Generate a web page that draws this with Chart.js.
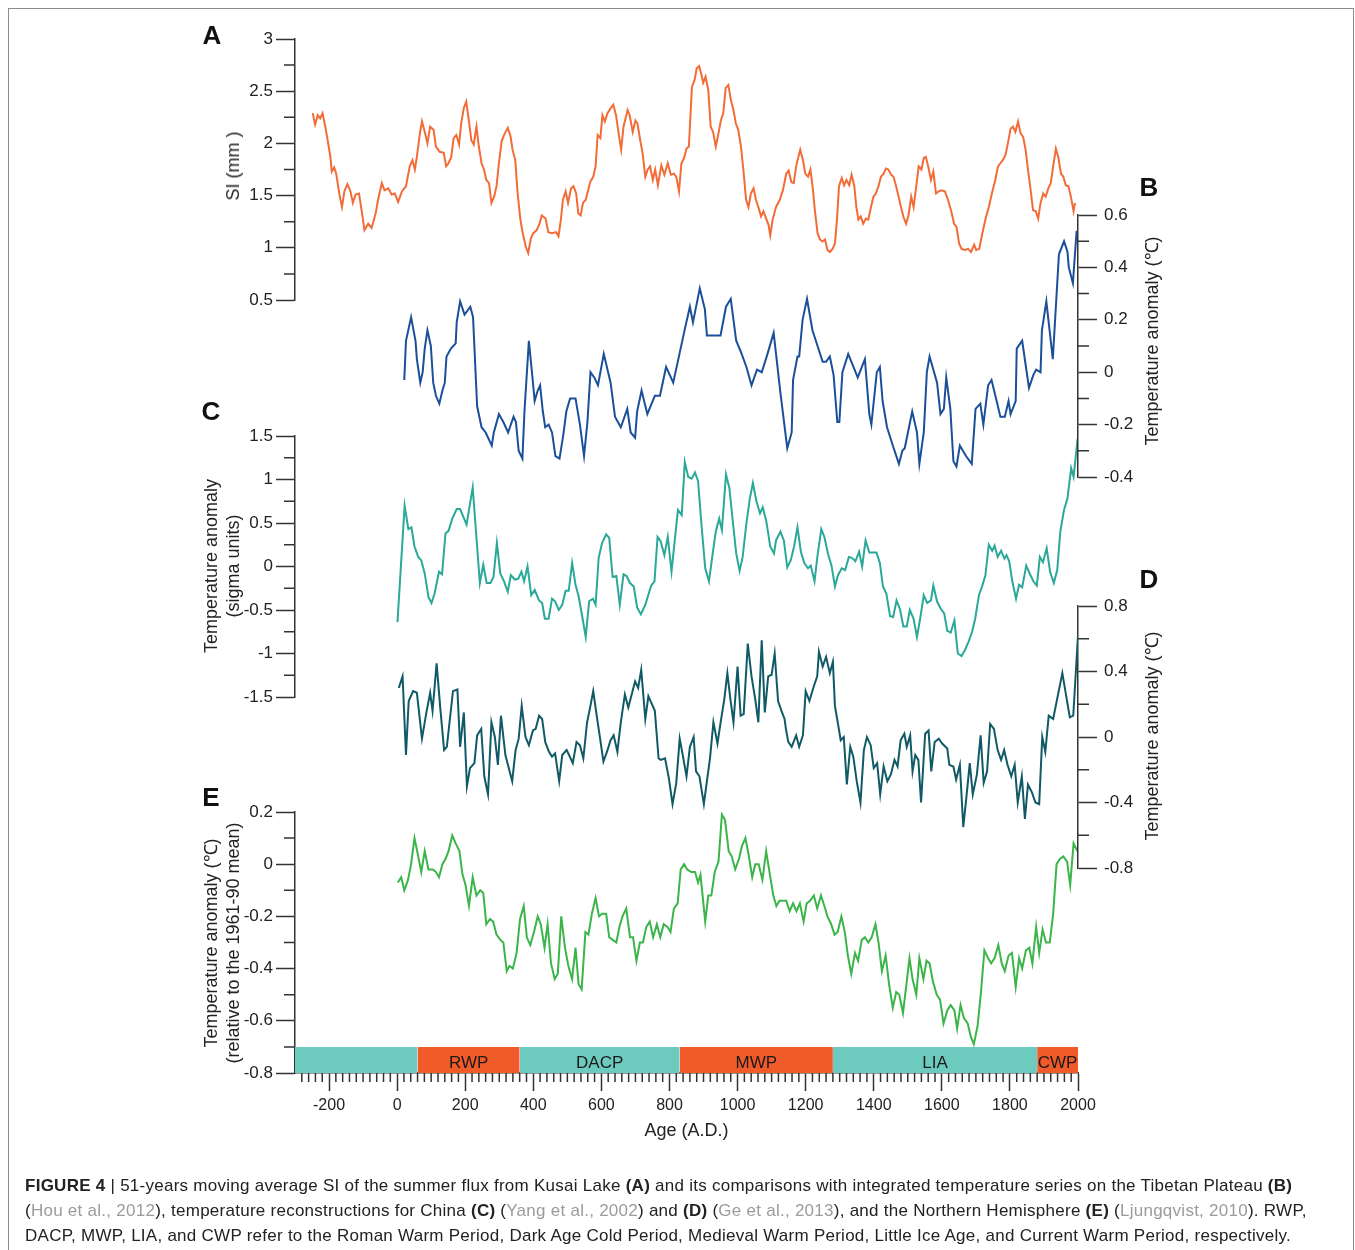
<!DOCTYPE html>
<html>
<head>
<meta charset="utf-8">
<title>Figure 4 - Kusai Lake SI and temperature series</title>
<script src="https://cdn.jsdelivr.net/npm/chart.js"></script>
<style>
    body { margin: 0; background: #fff; font-family: "Liberation Sans", Arial, sans-serif; }
    #page { position: relative; width: 1355px; height: 1250px; overflow: hidden; background: #fff; }
    #frame { position: absolute; left: 8px; top: 8px; width: 1344px; height: 1300px; border: 1px solid #8c8c8c; }
    #page canvas { position: absolute; left: 0; top: 0; }
    .letter { position: absolute; transform: translate(-50%, -50%); font-size: 26px; font-weight: bold; color: #111; }
    .ytitle { position: absolute; transform: translate(-50%, -50%) rotate(-90deg); font-size: 18px; line-height: 22px; color: #222; white-space: nowrap; text-align: center; }
    #caption { position: absolute; left: 25px; top: 1173px; font-size: 17px; line-height: 25px; letter-spacing: 0.26px; color: #222; white-space: nowrap; }
    #caption .ref { color: #9b9b9b; }
</style>
</head>
<body>
<div id="page">
    <div id="frame"></div>
    <canvas id="chartE" width="1355" height="1250"></canvas>
    <canvas id="chartD" width="1355" height="1250"></canvas>
    <canvas id="chartC" width="1355" height="1250"></canvas>
    <canvas id="chartB" width="1355" height="1250"></canvas>
    <canvas id="chartA" width="1355" height="1250"></canvas>

    <div class="letter" style="left:212px;top:35px">A</div>
    <div class="letter" style="left:1149px;top:187px">B</div>
    <div class="letter" style="left:211px;top:411px">C</div>
    <div class="letter" style="left:1149px;top:579px">D</div>
    <div class="letter" style="left:211px;top:797px">E</div>

    <div class="ytitle" style="left:233px;top:166px">SI (mm )</div>
    <div class="ytitle" style="left:1152px;top:341px">Temperature anomaly (℃)</div>
    <div class="ytitle" style="left:222px;top:566px">Temperature anomaly<br>(sigma units)</div>
    <div class="ytitle" style="left:1152px;top:736px">Temperature anomaly (℃)</div>
    <div class="ytitle" style="left:222px;top:943px">Temperature anomaly (℃)<br>(relative to the 1961-90 mean)</div>

    <div id="caption">
        <div><b>FIGURE 4</b> | 51-years moving average SI of the summer flux from Kusai Lake <b>(A)</b> and its comparisons with integrated temperature series on the Tibetan Plateau <b>(B)</b></div>
        <div>(<span class="ref">Hou et al., 2012</span>), temperature reconstructions for China <b>(C)</b> (<span class="ref">Yang et al., 2002</span>) and <b>(D)</b> (<span class="ref">Ge et al., 2013</span>), and the Northern Hemisphere <b>(E)</b> (<span class="ref">Ljungqvist, 2010</span>). RWP,</div>
        <div>DACP, MWP, LIA, and CWP refer to the Roman Warm Period, Dark Age Cold Period, Medieval Warm Period, Little Ice Age, and Current Warm Period, respectively.</div>
    </div>
</div>

<script>
    // (A) 51-yr moving average SI, Kusai Lake
    const siYears = [-248,-241,-233,-226,-219,-211,-204,-196,-192,-185,
        -179,-170,-162,-155,-146,-137,-130,-122,-112,-103,
        -96,-85,-75,-63,-56,-45,-37,-26,-16,-7,
        3,14,26,37,45,52,58,67,73,82,
        89,97,107,114,125,137,144,151,159,166,
        174,182,188,196,203,211,218,225,233,240,
        248,255,262,270,277,285,292,299,307,314,
        325,333,339,347,354,362,369,378,385,393,
        400,410,418,425,436,444,455,467,474,481,
        487,495,502,511,518,526,532,539,546,554,
        561,567,576,583,589,597,603,610,618,628,
        635,643,650,658,665,677,683,692,700,706,
        714,721,729,736,743,751,758,766,776,785,
        795,804,813,820,828,835,843,850,857,866,
        874,880,887,893,899,906,914,921,928,936,
        943,951,958,965,973,980,988,995,1002,1010,
        1017,1025,1032,1039,1047,1054,1062,1069,1076,1084,
        1091,1096,1103,1113,1124,1133,1143,1150,1158,1165,
        1172,1180,1184,1192,1199,1207,1214,1221,1227,1235,
        1242,1249,1257,1264,1271,1279,1286,1292,1298,1306,
        1313,1320,1328,1335,1343,1349,1355,1362,1369,1377,
        1384,1392,1399,1406,1414,1421,1429,1436,1443,1451,
        1458,1465,1473,1480,1487,1495,1502,1510,1517,1525,
        1532,1540,1547,1553,1560,1568,1575,1583,1591,1599,
        1609,1618,1627,1636,1643,1651,1658,1668,1677,1686,
        1695,1701,1710,1719,1728,1738,1747,1757,1765,1772,
        1779,1787,1794,1802,1809,1816,1824,1831,1839,1846,
        1853,1861,1868,1876,1883,1890,1898,1905,1913,1920,
        1927,1935,1942,1950,1957,1964,1972,1979,1987,1991];
    const siValues = [2.29,2.18,2.27,2.24,2.29,2.16,2.03,1.87,1.73,1.77,
        1.71,1.52,1.39,1.54,1.61,1.54,1.43,1.51,1.52,1.33,
        1.17,1.23,1.19,1.33,1.46,1.62,1.55,1.57,1.51,1.52,
        1.44,1.54,1.59,1.78,1.84,1.75,1.87,2.10,2.21,2.10,
        2.00,2.16,2.13,1.97,1.92,1.91,1.78,1.81,1.87,2.05,
        2.08,1.99,2.19,2.34,2.40,2.21,2.03,1.99,2.16,1.97,
        1.81,1.75,1.65,1.62,1.43,1.49,1.59,1.81,2.02,2.08,
        2.15,2.07,1.94,1.84,1.52,1.27,1.14,1.01,0.95,1.09,
        1.14,1.17,1.23,1.31,1.28,1.15,1.14,1.15,1.11,1.27,
        1.46,1.54,1.43,1.57,1.59,1.52,1.33,1.31,1.43,1.46,
        1.55,1.63,1.68,1.78,2.08,2.05,2.27,2.21,2.29,2.34,
        2.37,2.27,2.11,1.94,2.16,2.32,2.27,2.11,2.22,2.19,
        2.03,1.91,1.68,1.75,1.78,1.65,1.75,1.60,1.79,1.70,
        1.81,1.70,1.71,1.68,1.54,1.81,1.86,1.95,1.97,2.54,
        2.61,2.72,2.74,2.67,2.58,2.64,2.51,2.16,2.11,1.97,
        2.08,2.22,2.29,2.53,2.56,2.42,2.32,2.19,2.13,1.97,
        1.75,1.46,1.39,1.52,1.57,1.46,1.38,1.30,1.35,1.28,
        1.22,1.12,1.27,1.39,1.46,1.55,1.71,1.74,1.63,1.62,
        1.78,1.89,1.94,1.84,1.71,1.68,1.75,1.57,1.36,1.14,
        1.08,1.06,1.08,0.98,0.96,0.99,1.04,1.27,1.59,1.67,
        1.60,1.65,1.60,1.70,1.59,1.39,1.27,1.30,1.23,1.28,
        1.27,1.39,1.49,1.52,1.59,1.68,1.71,1.76,1.75,1.70,
        1.68,1.60,1.49,1.39,1.30,1.23,1.31,1.49,1.39,1.59,
        1.78,1.75,1.86,1.87,1.78,1.65,1.73,1.52,1.54,1.55,
        1.54,1.46,1.36,1.23,1.20,1.04,0.99,0.98,0.99,0.96,
        1.03,0.98,0.99,1.14,1.27,1.39,1.52,1.65,1.78,1.81,
        1.84,1.89,2.00,2.14,2.16,2.11,2.21,2.10,2.06,1.94,
        1.75,1.55,1.36,1.35,1.28,1.43,1.52,1.49,1.57,1.62,
        1.78,1.95,1.87,1.71,1.68,1.60,1.59,1.49,1.35,1.43];

    // (B) Tibetan Plateau temperature anomaly (C)
    const tibetYears = [21,26,41,54,58,68,75,81,89,99,
        106,114,124,133,140,145,158,172,175,185,
        198,215,223,235,248,260,278,284,299,312,
        326,342,349,357,368,374,387,399,404,413,
        420,428,435,445,455,465,477,488,497,508,
        524,537,549,559,568,579,590,607,627,640,
        657,676,686,699,705,718,735,757,772,790,
        811,826,846,860,869,889,904,910,931,950,
        966,980,996,1009,1026,1041,1057,1071,1088,1106,
        1126,1146,1159,1163,1176,1181,1191,1204,1220,1250,
        1260,1271,1282,1293,1299,1308,1325,1353,1374,1387,
        1393,1409,1418,1426,1439,1456,1474,1484,1491,1513,
        1527,1534,1547,1556,1564,1586,1596,1606,1613,1625,
        1634,1643,1653,1671,1688,1699,1713,1722,1736,1746,
        1761,1772,1785,1796,1802,1817,1820,1836,1856,1869,
        1877,1890,1894,1907,1926,1944,1959,1969,1973,1985,
        1996];
    const tibetTemp = [-0.03,0.12,0.21,0.12,0.05,-0.04,0.00,0.09,0.16,0.10,
        -0.04,-0.09,-0.12,-0.07,-0.04,0.06,0.09,0.11,0.19,0.27,
        0.22,0.25,0.21,-0.13,-0.21,-0.23,-0.28,-0.23,-0.16,-0.19,
        -0.23,-0.17,-0.19,-0.30,-0.33,-0.15,0.12,-0.04,-0.11,-0.07,
        -0.05,-0.15,-0.21,-0.20,-0.23,-0.32,-0.33,-0.24,-0.15,-0.10,
        -0.10,-0.20,-0.32,-0.19,0.00,-0.02,-0.05,0.07,-0.04,-0.17,
        -0.21,-0.14,-0.23,-0.25,-0.15,-0.07,-0.16,-0.09,-0.09,0.02,
        -0.04,0.05,0.17,0.25,0.19,0.32,0.24,0.14,0.14,0.14,
        0.25,0.28,0.12,0.08,0.02,-0.05,0.01,0.00,0.07,0.15,
        -0.08,-0.29,-0.23,-0.03,0.06,0.06,0.20,0.28,0.16,0.04,
        0.04,0.06,-0.01,-0.19,-0.19,0.00,0.07,-0.02,0.05,-0.16,
        -0.20,0.00,0.02,-0.11,-0.21,-0.28,-0.35,-0.30,-0.29,-0.15,
        -0.23,-0.35,-0.23,0.00,0.06,-0.04,-0.16,-0.14,-0.02,-0.14,
        -0.34,-0.36,-0.28,-0.32,-0.35,-0.14,-0.12,-0.20,-0.05,-0.03,
        -0.11,-0.17,-0.17,-0.11,-0.16,-0.11,0.09,0.12,-0.06,-0.01,
        0.01,0.00,0.16,0.27,0.05,0.45,0.50,0.46,0.40,0.34,
        0.54];

    // (C) China temperature reconstruction (sigma units)
    const chinaYears = [1,22,33,42,51,62,71,81,92,101,
        110,123,132,142,151,162,175,185,204,222,
        243,253,263,274,283,293,303,314,325,334,
        346,356,365,373,383,394,404,417,426,434,
        445,455,464,475,485,495,504,514,524,533,
        544,554,564,575,583,592,602,614,623,633,
        644,654,665,674,684,695,705,716,729,746,
        756,765,774,785,795,806,816,825,836,845,
        855,865,875,884,894,905,916,927,936,946,
        954,966,976,987,996,1006,1015,1026,1036,1045,
        1056,1066,1074,1084,1096,1107,1113,1126,1136,1146,
        1156,1166,1176,1186,1196,1207,1215,1226,1235,1246,
        1255,1266,1276,1286,1295,1306,1316,1327,1336,1346,
        1357,1366,1376,1387,1397,1408,1418,1427,1437,1448,
        1457,1467,1477,1487,1497,1506,1517,1527,1538,1547,
        1557,1568,1575,1586,1596,1607,1616,1626,1637,1647,
        1658,1668,1679,1689,1698,1709,1719,1728,1738,1748,
        1755,1764,1774,1784,1790,1798,1807,1818,1827,1836,
        1848,1858,1869,1879,1888,1897,1908,1918,1929,1939,
        1948,1959,1969,1980,1987,1999];
    const chinaSigma = [-0.64,0.70,0.43,0.45,0.23,0.11,0.07,-0.08,-0.35,-0.42,
        -0.31,-0.06,-0.09,0.38,0.41,0.55,0.66,0.66,0.48,0.91,
        -0.19,0.02,-0.19,-0.19,-0.12,0.27,-0.08,-0.17,-0.29,-0.10,
        -0.15,-0.14,-0.06,-0.17,0.00,-0.33,-0.27,-0.39,-0.42,-0.60,
        -0.60,-0.37,-0.40,-0.50,-0.44,-0.28,-0.28,0.04,-0.21,-0.34,
        -0.58,-0.81,-0.40,-0.37,-0.44,0.10,0.27,0.37,0.33,-0.12,
        -0.11,-0.44,-0.09,-0.11,-0.19,-0.23,-0.47,-0.55,-0.44,-0.22,
        -0.17,0.34,0.29,0.13,0.34,-0.06,0.32,0.65,0.59,1.20,
        1.03,1.01,1.08,0.98,0.48,-0.02,-0.17,0.15,0.40,0.55,
        0.42,1.06,0.90,0.48,0.15,-0.05,0.11,0.50,0.78,0.96,
        0.74,0.61,0.68,0.53,0.23,0.15,0.30,0.40,0.30,-0.01,
        0.07,0.23,0.45,0.17,0.04,-0.02,0.01,-0.17,0.13,0.43,
        0.34,0.14,0.01,-0.23,-0.10,-0.02,-0.04,0.11,0.10,0.06,
        0.17,0.00,0.30,0.16,0.16,0.16,0.04,-0.23,-0.31,-0.57,
        -0.58,-0.39,-0.49,-0.69,-0.69,-0.50,-0.60,-0.81,-0.56,-0.33,
        -0.42,-0.39,-0.22,-0.40,-0.48,-0.54,-0.74,-0.76,-0.62,-1.00,
        -1.03,-0.96,-0.86,-0.75,-0.60,-0.33,-0.22,-0.10,0.25,0.18,
        0.24,0.11,0.18,0.09,0.13,0.06,-0.17,-0.37,-0.21,-0.24,
        0.01,-0.08,-0.17,-0.22,0.11,0.05,0.21,-0.06,-0.19,-0.04,
        0.40,0.65,0.78,1.13,1.03,1.47];

    // (D) China temperature anomaly (C)
    const geYears = [5,16,26,34,47,58,73,86,97,104,
        116,127,138,146,164,177,185,196,205,214,
        227,235,247,256,267,277,287,296,305,318,
        338,348,357,366,377,387,399,407,417,426,
        435,446,455,464,476,485,498,505,516,527,
        537,547,558,566,576,587,597,606,618,627,
        636,647,657,669,679,689,699,708,717,729,
        738,757,768,774,787,798,809,820,830,839,
        850,860,871,878,888,901,910,919,929,941,
        951,961,970,979,988,1000,1009,1018,1030,1041,
        1052,1061,1071,1080,1090,1100,1109,1119,1129,1138,
        1142,1149,1159,1172,1181,1192,1200,1211,1224,1234,
        1239,1250,1260,1271,1280,1286,1295,1303,1312,1321,
        1331,1340,1350,1361,1371,1380,1391,1400,1410,1419,
        1429,1440,1450,1461,1470,1479,1490,1497,1507,1514,
        1522,1531,1539,1551,1561,1569,1579,1591,1601,1616,
        1622,1634,1642,1653,1663,1673,1682,1691,1703,1714,
        1723,1733,1742,1753,1764,1774,1783,1793,1804,1814,
        1823,1835,1844,1853,1865,1875,1886,1895,1904,1914,
        1927,1954,1976,1986,2000];
    const geTemp = [0.30,0.37,-0.11,0.22,0.28,0.27,-0.01,0.15,0.27,0.16,
        0.45,0.17,-0.08,-0.06,0.28,0.29,-0.06,0.15,-0.30,-0.19,
        -0.16,0.01,0.05,-0.24,-0.35,0.09,0.00,-0.17,0.13,-0.11,
        -0.27,-0.08,-0.01,0.19,0.00,-0.05,0.04,0.05,0.13,0.11,
        -0.03,-0.09,-0.12,-0.10,-0.27,-0.11,-0.08,-0.11,-0.16,-0.03,
        -0.05,-0.13,0.09,0.17,0.28,0.12,-0.02,-0.15,-0.08,-0.02,
        0.01,-0.09,0.09,0.26,0.18,0.26,0.34,0.30,0.41,0.11,
        0.25,0.16,-0.13,-0.14,-0.13,-0.25,-0.41,-0.28,-0.01,-0.11,
        -0.24,-0.06,0.00,-0.21,-0.24,-0.41,-0.27,-0.13,0.09,-0.04,
        0.10,0.23,0.39,0.23,0.09,0.43,0.13,0.14,0.57,0.37,
        0.23,0.09,0.59,0.15,0.37,0.38,0.51,0.22,0.16,0.11,
        0.05,-0.03,-0.06,0.01,-0.06,0.01,0.28,0.22,0.31,0.37,
        0.52,0.43,0.49,0.39,0.46,0.19,0.08,-0.02,0.00,-0.29,
        -0.06,-0.12,-0.27,-0.40,-0.08,0.00,-0.05,-0.19,-0.16,-0.35,
        -0.18,-0.27,-0.23,-0.14,-0.18,-0.02,0.02,-0.06,0.01,-0.21,
        -0.11,-0.14,-0.40,0.02,0.04,-0.21,-0.03,-0.01,-0.04,-0.07,
        -0.17,-0.18,-0.26,-0.17,-0.55,-0.35,-0.16,-0.35,-0.23,0.01,
        -0.28,-0.21,0.08,0.05,-0.08,-0.14,-0.08,-0.17,-0.24,-0.17,
        -0.40,-0.24,-0.50,-0.29,-0.34,-0.40,-0.41,0.00,-0.09,0.13,
        0.11,0.39,0.12,0.13,0.62];

    // (E) Northern Hemisphere temperature anomaly, relative to 1961-90 mean
    const nhYears = [2,12,21,32,41,51,62,71,81,92,
        105,114,123,133,142,151,162,172,183,192,
        201,211,222,233,244,253,262,273,282,292,
        303,312,322,330,340,351,361,372,381,391,
        402,413,422,433,442,452,463,472,482,493,
        503,514,524,533,542,553,562,572,583,593,
        602,614,623,633,644,653,662,673,684,693,
        703,713,722,732,742,752,763,773,783,794,
        803,813,824,833,843,852,864,875,884,891,
        905,914,923,933,944,954,963,974,983,993,
        1004,1013,1023,1032,1043,1052,1062,1073,1084,1095,
        1105,1114,1123,1134,1143,1153,1163,1173,1183,1194,
        1203,1213,1224,1234,1245,1255,1264,1275,1285,1294,
        1305,1315,1324,1334,1345,1354,1365,1374,1384,1394,
        1405,1414,1424,1435,1445,1456,1466,1475,1486,1496,
        1505,1514,1525,1534,1546,1555,1564,1574,1585,1595,
        1605,1616,1626,1637,1645,1655,1665,1676,1685,1694,
        1705,1715,1725,1736,1745,1755,1766,1776,1785,1796,
        1806,1817,1827,1836,1847,1857,1866,1877,1886,1896,
        1906,1917,1927,1937,1947,1957,1968,1977,1987,1998];
    const nhTemp = [-0.07,-0.05,-0.10,-0.06,0.00,0.10,0.03,-0.03,0.05,-0.02,
        -0.02,-0.03,-0.05,0.00,0.02,0.05,0.11,0.08,0.05,-0.04,
        -0.08,-0.16,-0.05,-0.12,-0.10,-0.11,-0.23,-0.21,-0.22,-0.27,
        -0.29,-0.30,-0.41,-0.39,-0.40,-0.34,-0.21,-0.16,-0.28,-0.31,
        -0.26,-0.20,-0.23,-0.32,-0.23,-0.38,-0.44,-0.42,-0.20,-0.32,
        -0.39,-0.44,-0.32,-0.46,-0.48,-0.26,-0.27,-0.19,-0.13,-0.20,
        -0.19,-0.19,-0.28,-0.29,-0.30,-0.24,-0.20,-0.17,-0.28,-0.28,
        -0.37,-0.30,-0.30,-0.24,-0.22,-0.28,-0.23,-0.28,-0.23,-0.24,
        -0.26,-0.17,-0.15,-0.02,0.00,-0.02,-0.03,-0.03,-0.07,-0.04,
        -0.22,-0.12,-0.12,-0.03,0.01,0.19,0.17,0.05,0.03,-0.02,
        0.02,0.07,0.10,0.04,-0.05,0.00,0.00,-0.06,0.05,-0.04,
        -0.12,-0.16,-0.14,-0.14,-0.14,-0.18,-0.15,-0.18,-0.15,-0.22,
        -0.15,-0.14,-0.12,-0.17,-0.12,-0.16,-0.20,-0.23,-0.27,-0.26,
        -0.20,-0.26,-0.35,-0.42,-0.34,-0.37,-0.29,-0.28,-0.30,-0.28,
        -0.23,-0.30,-0.41,-0.35,-0.46,-0.55,-0.49,-0.50,-0.57,-0.46,
        -0.36,-0.44,-0.50,-0.36,-0.44,-0.37,-0.38,-0.45,-0.50,-0.52,
        -0.61,-0.56,-0.54,-0.56,-0.63,-0.54,-0.59,-0.61,-0.66,-0.69,
        -0.62,-0.49,-0.33,-0.36,-0.38,-0.36,-0.31,-0.38,-0.41,-0.35,
        -0.34,-0.47,-0.36,-0.40,-0.33,-0.32,-0.38,-0.24,-0.34,-0.25,
        -0.30,-0.30,-0.19,0.00,0.02,0.03,0.01,-0.08,0.08,0.05];

    // climate periods along the bottom of panel E
    const periodNames = ['', 'RWP', 'DACP', 'MWP', 'LIA', 'CWP'];
    const periodStart = [-300, 60, 360, 830, 1280, 1880];
    const periodEnd = [60, 360, 830, 1280, 1880, 2000];

    // tick labels
    const siTicks = [0.5, 1, 1.5, 2, 2.5, 3];
    const tibetTicks = [-0.4, -0.2, 0, 0.2, 0.4, 0.6];
    const chinaTicks = [-1.5, -1, -0.5, 0, 0.5, 1, 1.5];
    const geTicks = [-0.8, -0.4, 0, 0.4, 0.8];
    const nhTicks = [-0.8, -0.6, -0.4, -0.2, 0, 0.2];
    const ageTicks = [-200, 0, 200, 400, 600, 800, 1000, 1200, 1400, 1600, 1800, 2000];

    Chart.defaults.font.family = '"Liberation Sans", Arial, sans-serif';
    Chart.defaults.font.size = 16;
    Chart.defaults.color = '#222';

    const PAGE_W = 1355, PAGE_H = 1250;
    const PLOT_LEFT = 295, PLOT_RIGHT = 1078;
    const AXIS = '#333';
    const WARM = '#f15a29', COLD = '#6dcabf';

    function fmt(v) { return String(Math.round(v * 100) / 100); }
    function points(xs, ys) { return xs.map((x, i) => ({ x: x, y: ys[i] })); }
    function mids(t) { return t.slice(1).map((v, i) => (v + t[i]) / 2); }

    function lineSet(xs, ys, color) {
        return { data: points(xs, ys), borderColor: color, borderWidth: 2, pointRadius: 0, tension: 0, fill: false };
    }

    // half-length ticks between the labelled ones
    function minorTicks(side, yMinor, xMinor) {
        return {
            id: 'minorTicks',
            afterDraw(chart) {
                const ctx = chart.ctx, area = chart.chartArea;
                const ys = chart.scales.y, xs = chart.scales.x;
                ctx.save();
                ctx.strokeStyle = AXIS;
                ctx.lineWidth = 1.5;
                ctx.beginPath();
                yMinor.forEach(v => {
                    const py = ys.getPixelForValue(v);
                    if (side === 'left') { ctx.moveTo(area.left - 11, py); ctx.lineTo(area.left, py); }
                    else { ctx.moveTo(area.right, py); ctx.lineTo(area.right + 11, py); }
                });
                xMinor.forEach(v => {
                    const px = xs.getPixelForValue(v);
                    ctx.moveTo(px, area.bottom); ctx.lineTo(px, area.bottom + 9);
                });
                ctx.stroke();
                ctx.restore();
            }
        };
    }

    const periodLabels = {
        id: 'periodLabels',
        afterDatasetsDraw(chart) {
            const ctx = chart.ctx, xs = chart.scales.x, ys = chart.scales.y;
            ctx.save();
            ctx.font = '17px "Liberation Sans", Arial, sans-serif';
            ctx.fillStyle = '#1a1a1a';
            ctx.textAlign = 'center';
            ctx.textBaseline = 'middle';
            periodNames.forEach((name, i) => {
                if (!name) return;
                ctx.fillText(name, xs.getPixelForValue((periodStart[i] + periodEnd[i]) / 2), ys.getPixelForValue(-0.75) + 3);
            });
            ctx.restore();
        }
    };

    function yAxis(side, min, max, ticksArr) {
        return {
            type: 'linear', position: side, min: min, max: max,
            afterFit: s => { s.width = side === 'left' ? PLOT_LEFT : PAGE_W - PLOT_RIGHT; },
            afterBuildTicks: s => { s.ticks = ticksArr.map(v => ({ value: v })); },
            ticks: { font: { size: 17 }, padding: side === 'left' ? 3 : 7, callback: v => fmt(v) },
            grid: { drawOnChartArea: false, tickLength: 19, tickColor: AXIS, tickWidth: 1.5 },
            border: { color: AXIS, width: 1.5 }
        };
    }

    function panel(id, side, top, bottom, yMin, yMax, yTicks, datasets, xScale, extra) {
        const xAxisH = xScale ? 80 : 0;
        const pad = side === 'left'
            ? { left: 0, right: PAGE_W - PLOT_RIGHT, top: top, bottom: PAGE_H - bottom - xAxisH }
            : { left: PLOT_LEFT, right: 0, top: top, bottom: PAGE_H - bottom - xAxisH };
        const xMinor = [];
        if (xScale) {
            for (let v = -280; v < 2000; v += 20) if (v % 200 !== 0) xMinor.push(v);
        }
        return new Chart(document.getElementById(id), {
            type: 'line',
            data: { datasets: datasets },
            options: {
                responsive: false,
                animation: false,
                events: [],
                layout: { padding: pad },
                plugins: { legend: { display: false }, tooltip: { enabled: false } },
                scales: {
                    x: xScale || { type: 'linear', min: -300, max: 2000, display: false },
                    y: yAxis(side, yMin, yMax, yTicks)
                }
            },
            plugins: [minorTicks(side, mids(yTicks), xMinor)].concat(extra || [])
        });
    }

    panel('chartA', 'left', 39, 300, 0.5, 3, siTicks, [lineSet(siYears, siValues, '#f36b36')]);
    panel('chartB', 'right', 215, 477, -0.4, 0.6, tibetTicks, [lineSet(tibetYears, tibetTemp, '#1c4f99')]);
    panel('chartC', 'left', 436, 697, -1.5, 1.5, chinaTicks, [lineSet(chinaYears, chinaSigma, '#2aa898')]);
    panel('chartD', 'right', 606, 868, -0.8, 0.8, geTicks, [lineSet(geYears, geTemp, '#0f5a66')]);

    // panel E: curve on top, then the period bar
    const eSets = [lineSet(nhYears, nhTemp, '#3bb54a')];
    periodNames.forEach((name, i) => {
        eSets.push({
            data: [{ x: periodStart[i], y: -0.7 }, { x: periodEnd[i], y: -0.7 }],
            borderWidth: 0, pointRadius: 0, tension: 0,
            backgroundColor: i % 2 === 0 ? COLD : WARM,
            fill: { value: -0.8 }
        });
    });
    const ageAxis = {
        type: 'linear', position: 'bottom', min: -300, max: 2000,
        afterFit: s => { s.height = 80; },
        afterBuildTicks: s => { s.ticks = ageTicks.map(v => ({ value: v })); },
        ticks: { padding: 5, autoSkip: false, maxRotation: 0, callback: v => String(v) },
        grid: { drawOnChartArea: false, tickLength: 18, tickColor: AXIS, tickWidth: 1.5 },
        border: { color: AXIS, width: 1.5 },
        title: { display: true, text: 'Age (A.D.)', font: { size: 18 }, color: '#222', padding: { top: 4, bottom: 11 } }
    };
    panel('chartE', 'left', 812, 1073, -0.8, 0.2, nhTicks, eSets, ageAxis, [periodLabels]);
</script>
</body>
</html>
